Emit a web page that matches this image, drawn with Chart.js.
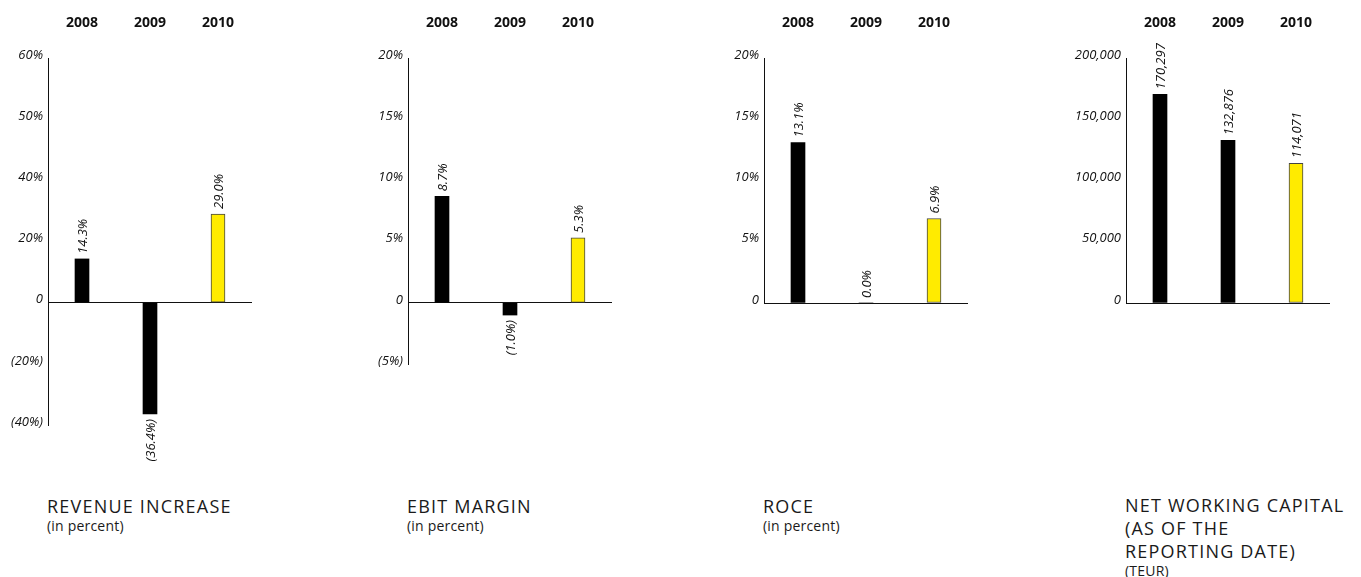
<!DOCTYPE html>
<html>
<head>
<meta charset="utf-8">
<script src="https://cdn.jsdelivr.net/npm/chart.js@4"></script>
<style>
  html, body { margin: 0; padding: 0; background: #fff; }
  body { width: 1361px; height: 577px; position: relative; overflow: hidden; font-family: "Open Sans", sans-serif; color: #1a1a1a; }
  .panel { position: absolute; top: 0; height: 480px; }
  .title { position: absolute; top: 495px; font-size: 18px; letter-spacing: 1.2px; line-height: 23px; }
  .title small { display: block; font-size: 14px; letter-spacing: 0.2px; line-height: 13px; padding-top: 1px; }
</style>
</head>
<body>
<div class="panel" id="p1" style="left:0px;width:252px"><canvas id="c1"></canvas></div>
<div class="panel" id="p2" style="left:338px;width:274px"><canvas id="c2"></canvas></div>
<div class="panel" id="p3" style="left:694px;width:274px"><canvas id="c3"></canvas></div>
<div class="panel" id="p4" style="left:1056px;width:274px"><canvas id="c4"></canvas></div>

<div class="title" style="left:47px">REVENUE INCREASE<small>(in percent)</small></div>
<div class="title" style="left:407px">EBIT MARGIN<small>(in percent)</small></div>
<div class="title" style="left:763px">ROCE<small>(in percent)</small></div>
<div class="title" style="left:1125px;top:494px">NET WORKING CAPITAL<br>(AS OF THE<br>REPORTING DATE)<small>(TEUR)</small></div>

<script>
// key figures 2008-2010, four small bar charts
const years = ['2008', '2009', '2010'];

const revenueIncrease = [14.3, -36.4, 29.0];
const ebitMargin = [8.7, -1.0, 5.3];
const roce = [13.1, 0.0, 6.9];
const netWorkingCapital = [170297, 132876, 114071];

// tick labels as printed, bottom to top
const revenueTicks = ['(40%)', '(20%)', '0', '20%', '40%', '50%', '60%'];
const ebitTicks = ['(5%)', '0', '5%', '10%', '15%', '20%'];
const roceTicks = ['0', '5%', '10%', '15%', '20%'];
const nwcTicks = ['0', '50,000', '100,000', '150,000', '200,000'];

const INK = '#111';
const YELLOW = '#ffeb00';

Chart.defaults.font.family = '"Open Sans", sans-serif';
Chart.defaults.color = INK;

// formatters for the values written on the bars
const pct = v => v < 0 ? `(${Math.abs(v).toFixed(1)}%)` : `${v.toFixed(1)}%`;
const teur = v => v.toLocaleString('en-US');

// rotated value labels above (or below) each bar
const barValues = {
  id: 'barValues',
  afterDatasetsDraw(chart, args, opts) {
    const { ctx } = chart;
    const ds = chart.data.datasets[0];
    chart.getDatasetMeta(0).data.forEach((bar, i) => {
      const v = ds.data[i];
      ctx.save();
      ctx.font = 'italic 13px "Open Sans", sans-serif';
      ctx.fillStyle = INK;
      ctx.textBaseline = 'middle';
      if (v < 0) {
        ctx.translate(bar.x + 1, bar.y + 5);
        ctx.rotate(-Math.PI / 2);
        ctx.textAlign = 'right';
      } else {
        ctx.translate(bar.x + 1, bar.y - 5);
        ctx.rotate(-Math.PI / 2);
        ctx.textAlign = 'left';
      }
      ctx.fillText(opts.format(v), 0, 0);
      ctx.restore();
    });
  }
};

function makeChart(id, values, tickLabels, min, max, step, format, axisWidth, bottom) {
  return new Chart(document.getElementById(id), {
    type: 'bar',
    data: {
      labels: years,
      datasets: [{
        data: values,
        backgroundColor: ['#000', '#000', YELLOW],
        borderColor: ['#000', '#000', '#444'],
        borderWidth: [0, 0, 1],
        borderSkipped: false,
        barThickness: 14
      }]
    },
    options: {
      responsive: true,
      maintainAspectRatio: false,
      animation: false,
      layout: { padding: { top: 0, left: 0, right: 0, bottom: 480 - bottom } },
      plugins: {
        legend: { display: false },
        tooltip: { enabled: false },
        barValues: { format }
      },
      scales: {
        x: {
          position: 'top',
          grid: { display: false, drawTicks: false },
          border: { display: false },
          ticks: { padding: 27, font: { size: 14, weight: 'bold' }, color: INK },
          // the large tick padding would otherwise eat into the sides
          afterFit: s => { s.height = 58; s.paddingLeft = 0; s.paddingRight = 0; }
        },
        y: {
          min, max,
          grid: {
            drawTicks: false,
            color: c => c.tick && c.tick.value === 0 ? INK : 'transparent',
            lineWidth: 1
          },
          border: { display: true, color: INK, width: 1 },
          ticks: {
            stepSize: step,
            padding: 5,
            labelOffset: -3,
            font: { size: 13, style: 'italic' },
            color: INK,
            callback: (v, i) => tickLabels[i]
          },
          afterFit: s => { s.width = axisWidth; }
        }
      }
    },
    plugins: [barValues]
  });
}

document.addEventListener('DOMContentLoaded', () => {
  makeChart('c1', revenueIncrease, revenueTicks, -40, 80, 20, pct, 48, 425);
  makeChart('c2', ebitMargin, ebitTicks, -5, 20, 5, pct, 70, 364);
  makeChart('c3', roce, roceTicks, 0, 20, 5, pct, 70, 303);
  makeChart('c4', netWorkingCapital, nwcTicks, 0, 200000, 50000, teur, 70, 303);
});
</script>
</body>
</html>
